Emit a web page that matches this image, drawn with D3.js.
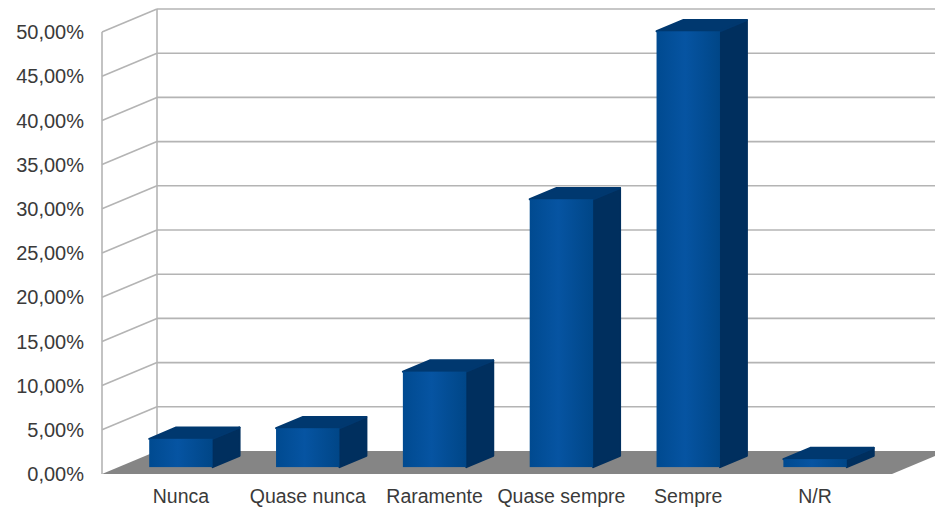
<!DOCTYPE html>
<html>
<head>
<meta charset="utf-8">
<script src="https://cdn.jsdelivr.net/npm/d3@7"></script>
<style>
  body { margin: 0; background: #fff; }
  text { font-family: "Liberation Sans", Arial, sans-serif; fill: #3a3a3a; }
</style>
</head>
<body>
<div id="chart"></div>
<script>
var categories = ['Nunca', 'Quase nunca', 'Raramente', 'Quase sempre', 'Sempre', 'N/R'];
var values = [0.032, 0.044, 0.108, 0.303, 0.493, 0.009];
var y_ticks = [0, 0.05, 0.10, 0.15, 0.20, 0.25, 0.30, 0.35, 0.40, 0.45, 0.50];

var chart_width = 935;
var chart_height = 510;

// front plane of the 3d box, plus depth offset to the back wall
var left = 102, right = 892;
var depth_x = 55, depth_y = 23;
var bar_d0 = 0.3, bar_d1 = 0.79;

var svg = d3.select('#chart')
      .append('svg')
      .attr('width', chart_width)
      .attr('height', chart_height);

var y_scale = d3.scaleLinear()
      .domain([0, 0.5])
      .range([474, 32]);

var x_scale = d3.scaleBand()
      .domain(categories)
      .range([101, 862])
      .paddingInner(0.5)
      .paddingOuter(0.25);

function px(x, d) { return x + d * depth_x; }
function py(v, d) { return y_scale(v) - d * depth_y; }

var fmt = function(v) { return d3.format('.2f')(v * 100).replace('.', ',') + '%'; };

// floor
svg.append('path')
   .attr('d', 'M' + [px(left, 0), py(0, 0)] + 'L' + [px(right, 0), py(0, 0)] +
              'L' + [px(right, 1), py(0, 1)] + 'L' + [px(left, 1), py(0, 1)] + 'Z')
   .attr('fill', '#858585');

// grid on back and left walls
var grid = svg.append('g')
   .attr('stroke', '#b4b4b4')
   .attr('stroke-width', 1.6)
   .attr('fill', 'none');

grid.selectAll('.back')
   .data(y_ticks.slice(1))
   .enter()
   .append('line')
   .attr('x1', px(left, 1))
   .attr('x2', px(right, 1))
   .attr('y1', function(d) { return py(d, 1); })
   .attr('y2', function(d) { return py(d, 1); });

grid.selectAll('.side')
   .data(y_ticks.slice(1))
   .enter()
   .append('line')
   .attr('x1', px(left, 0))
   .attr('x2', px(left, 1))
   .attr('y1', function(d) { return py(d, 0); })
   .attr('y2', function(d) { return py(d, 1); });

grid.append('line')
   .attr('x1', px(left, 0)).attr('x2', px(left, 0))
   .attr('y1', py(0, 0)).attr('y2', py(0.5, 0));

grid.append('line')
   .attr('x1', px(left, 1)).attr('x2', px(left, 1))
   .attr('y1', py(0, 1)).attr('y2', py(0.5, 1));

// y axis labels
svg.append('g')
   .selectAll('text')
   .data(y_ticks)
   .enter()
   .append('text')
   .attr('x', 84)
   .attr('y', function(d) { return py(d, 0); })
   .attr('dy', '0.36em')
   .attr('text-anchor', 'end')
   .attr('font-size', 20)
   .text(fmt);

// gradient for front faces
var defs = svg.append('defs');
var grad = defs.append('linearGradient')
   .attr('id', 'front')
   .attr('x1', 0).attr('x2', 1).attr('y1', 0).attr('y2', 0);
grad.append('stop').attr('offset', '0%').attr('stop-color', '#004a90');
grad.append('stop').attr('offset', '45%').attr('stop-color', '#0654a2');
grad.append('stop').attr('offset', '100%').attr('stop-color', '#004687');

// bars
var bars = svg.append('g')
   .selectAll('g')
   .data(values)
   .enter()
   .append('g')
   .attr('stroke-linejoin', 'round')
   .attr('stroke-width', 2);

function face(pts) {
  return 'M' + pts.map(function(p) { return p.join(','); }).join('L') + 'Z';
}

bars.append('path')
   .attr('d', function(d, i) {
     var x0 = x_scale(categories[i]), x1 = x0 + x_scale.bandwidth();
     return face([[px(x1, bar_d0), py(0, bar_d0)], [px(x1, bar_d0), py(d, bar_d0)],
                  [px(x1, bar_d1), py(d, bar_d1)], [px(x1, bar_d1), py(0, bar_d1)]]);
   })
   .attr('fill', '#002f5e')
   .attr('stroke', '#002f5e');

bars.append('path')
   .attr('d', function(d, i) {
     var x0 = x_scale(categories[i]), x1 = x0 + x_scale.bandwidth();
     return face([[px(x0, bar_d0), py(d, bar_d0)], [px(x1, bar_d0), py(d, bar_d0)],
                  [px(x1, bar_d1), py(d, bar_d1)], [px(x0, bar_d1), py(d, bar_d1)]]);
   })
   .attr('fill', '#00386f')
   .attr('stroke', '#00386f');

bars.append('rect')
   .attr('x', function(d, i) { return px(x_scale(categories[i]), bar_d0); })
   .attr('y', function(d) { return py(d, bar_d0); })
   .attr('width', x_scale.bandwidth())
   .attr('height', function(d) { return py(0, bar_d0) - py(d, bar_d0); })
   .attr('fill', 'url(#front)');

// category labels
svg.append('g')
   .selectAll('text')
   .data(categories)
   .enter()
   .append('text')
   .attr('x', function(d) { return px(x_scale(d) + x_scale.bandwidth() / 2, bar_d0); })
   .attr('y', 503)
   .attr('text-anchor', 'middle')
   .attr('font-size', 19.5)
   .text(function(d) { return d; });
</script>
</body>
</html>
